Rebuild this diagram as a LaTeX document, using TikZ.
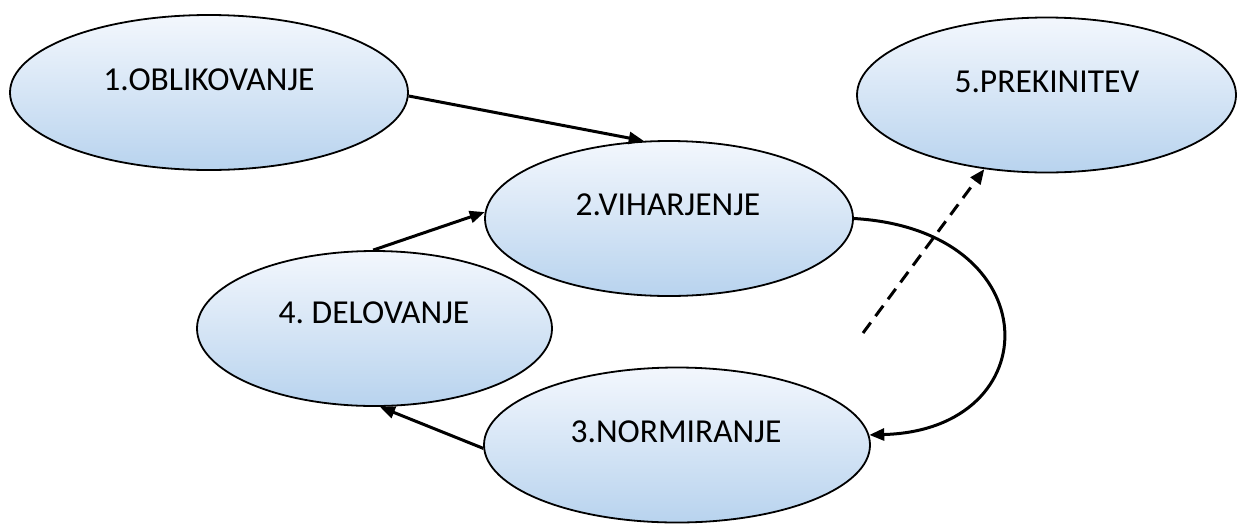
\documentclass[tikz,border=0pt]{standalone}
\usepackage{fontspec}
\setmainfont{Carlito}
\usetikzlibrary{shapes.geometric,arrows.meta}

\definecolor{phaseTop}{HTML}{F3F7FD}
\definecolor{phaseBottom}{HTML}{B8D3EE}

\tikzset{
  phase/.style={ellipse, draw=black, line width=1.8pt, inner sep=0pt,
    top color=phaseTop, bottom color=phaseBottom, minimum height=155pt},
  phasetext/.style={font=\fontsize{33.5}{36}\selectfont\frenchspacing, text=black, inner sep=0pt},
  flow/.style={line width=3pt, -{Triangle[length=15pt,width=12pt]}},
  exitflow/.style={flow, dash pattern=on 13pt off 8pt},
}

\begin{document}
\begin{tikzpicture}[x=1pt,y=-1pt]
  \useasboundingbox (0,0) rectangle (1237,523);

  % phases of the group
  \node[phase, minimum width=398pt] (p1) at (209,92.5) {};
  \node[phase, minimum width=368pt] (p2) at (669,218.5) {};
  \node[phase, minimum width=386pt] (p3) at (677,445) {};
  \node[phase, minimum width=355pt] (p4) at (374.5,328.5) {};
  \node[phase, minimum width=379pt] (p5) at (1046.5,95) {};

  % captions, set a little above each centre
  \node[phasetext] (t1) at (209,80) {1.OBLIKOVANJE};
  \node[phasetext] (t2) at (668,205) {2.VIHARJENJE};
  \node[phasetext] (t3) at (676,432) {3.NORMIRANJE};
  \node[phasetext] (t4) at (374,313) {4. DELOVANJE};
  \node[phasetext] (t5) at (1047,82) {5.PREKINITEV};

  % transitions
  \draw[flow] (p1.-1) -- (p2.108);
  \draw[flow] (p4.91) -- (p2.178);
  \draw[flow] (p3.181) -- (p4.-86);
  \draw[flow] (p2.0) .. controls (1050,230) and (1050,430) .. (p3.3);

  % way out towards the end phase
  \coordinate (exit) at (863,333);
  \draw[exitflow] (exit) -- (p5.-130);
\end{tikzpicture}
\end{document}
